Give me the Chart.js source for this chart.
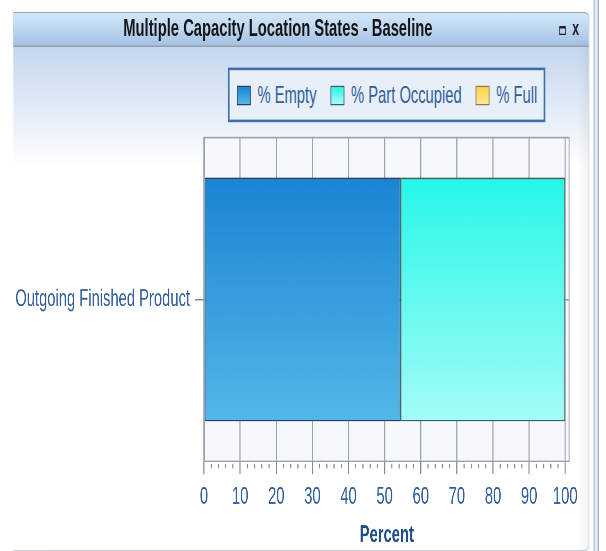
<!DOCTYPE html>
<html>
<head>
<meta charset="utf-8">
<script src="https://cdn.jsdelivr.net/npm/chart.js@4/dist/chart.umd.min.js"></script>
<style>
  html, body { margin: 0; padding: 0; background: #ffffff; overflow: hidden; }
  body { width: 606px; height: 551px; position: relative; }
  /* window laid out in a wide, short frame and then scaled so the type reads tall and narrow */
  #stage {
    position: absolute; left: 0; top: 0; width: 739px; height: 424px;
    transform: scale(0.82, 1.3); transform-origin: 0 0;
    font-family: 'Liberation Sans', Arial, sans-serif;
  }
  #panel {
    position: absolute; left: 15.9px; top: 9.2px; width: 702.5px; height: 413px;
    border-top: 1px solid #98a0a8; border-right: 1.2px solid #b4bcc4; border-bottom: 1px solid #c4ccd4;
    border-top-right-radius: 7px 5px; border-bottom-right-radius: 7px 5px;
    background: linear-gradient(to bottom, #b9cde9 0px, #c8d8ef 30px, #e6eef8 80px, #ffffff 118px, #ffffff 100%);
    overflow: hidden;
  }
  #panel::after {
    content: ''; position: absolute; right: 0; top: 26px; bottom: 0; width: 14px;
    background: linear-gradient(to right, rgba(0,0,0,0), rgba(0,0,0,0.05));
  }
  #header {
    position: absolute; left: 0; top: 0; width: 100%; height: 24.4px;
    background: linear-gradient(to bottom, #d2e7f9, #b8d2ee 60%, #a3c0e3);
    border-bottom: 1.5px solid #8b9299;
  }
  #title {
    position: absolute; left: 0; top: 0; width: 646px; height: 24.4px; line-height: 24.4px;
    text-align: center; font-weight: bold; font-size: 18px; color: #151515;
  }
  #winicons { position: absolute; left: 666px; top: 0; height: 24.4px; }
  #winicons .max {
    position: absolute; left: 0; top: 9.6px; width: 6px; height: 4.6px;
    border: 1.2px solid #202020; border-top-width: 2px;
  }
  #winicons .close {
    position: absolute; left: 16px; top: 0; line-height: 24.4px; font-size: 15px; font-weight: bold;
    color: #202020;
  }
  #legend {
    position: absolute; left: 278px; top: 52.3px; width: 374px; height: 38px;
    border: 2px solid #3f6fab; border-left-width: 2.4px; border-right-width: 2.4px; background: #e8eff9;
    display: flex; align-items: center; padding-left: 8.5px; box-sizing: content-box;
  }
  #legend .item { display: flex; align-items: center; margin-right: 16.5px; }
  #legend .sw { width: 15px; height: 13px; border: 1.5px solid #333; border-left-width: 1.8px; border-right-width: 1.8px; margin-right: 8.5px; }
  #legend .lbl { font-size: 18px; color: #2f5e9b; white-space: nowrap; }
  #edge {
    position: absolute; left: 724.4px; top: 0; width: 4px; height: 424px;
    border-left: 1.2px solid #8fa6c6; border-right: 1.2px solid #6f8cb4; background: #e4edf8;
  }
  #chart { position: absolute; left: 0; top: 0; }
</style>
</head>
<body>
<div id="stage">
  <div id="panel">
    <div id="header">
      <div id="title">Multiple Capacity Location States - Baseline</div>
      <div id="winicons"><div class="max"></div><div class="close">x</div></div>
    </div>
  </div>
  <div id="edge"></div>
  <div id="legend"></div>
  <canvas id="chart" width="719" height="423"></canvas>
</div>
<script>
// Location names and the share of time spent in each capacity state (percent)
const categories = ['Outgoing Finished Product'];
const seriesNames = ['% Empty', '% Part Occupied', '% Full'];
const pctEmpty = [54.4];
const pctPartOccupied = [45.6];
const pctFull = [0];
const percentTicks = [0, 10, 20, 30, 40, 50, 60, 70, 80, 90, 100];

// Gradient colours per state: [top, bottom, outline]
const stateColors = [
  ['#1b84d5', '#53b7e7', '#23445c'],
  ['#26f7e8', '#a4fcf7', '#3a6262'],
  ['#ffd23e', '#ffe99a', '#8a7a4c']
];

const FONT = "'Liberation Sans', Arial, sans-serif";
const GRID = '#9ea3aa';
const TICK = '#858b93';

// HTML legend built from the series names and colours
const legendEl = document.getElementById('legend');
seriesNames.forEach((name, i) => {
  const item = document.createElement('div');
  item.className = 'item';
  const sw = document.createElement('div');
  sw.className = 'sw';
  sw.style.background = `linear-gradient(to bottom, ${stateColors[i][0]}, ${stateColors[i][1]})`;
  sw.style.borderColor = stateColors[i][2];
  const lbl = document.createElement('span');
  lbl.className = 'lbl';
  lbl.textContent = name;
  item.appendChild(sw);
  item.appendChild(lbl);
  legendEl.appendChild(item);
});

function barGradient(i) {
  return (context) => {
    const chart = context.chart;
    const area = chart.chartArea;
    if (!area) return stateColors[i][0];
    const h = area.bottom - area.top;
    const g = chart.ctx.createLinearGradient(0, area.top + h * 0.125, 0, area.top + h * 0.875);
    g.addColorStop(0, stateColors[i][0]);
    g.addColorStop(1, stateColors[i][1]);
    return g;
  };
}

// Plot background, outer frame and minor ticks along the percent axis
const plotFrame = {
  id: 'plotFrame',
  beforeDraw(chart) {
    const { ctx, chartArea: a } = chart;
    ctx.save();
    ctx.fillStyle = '#f5f8fc';
    ctx.fillRect(a.left, a.top, a.right - a.left, a.bottom - a.top);
    ctx.restore();
  },
  afterDraw(chart) {
    const { ctx, chartArea: a } = chart;
    const xs = chart.scales.x;
    ctx.save();
    ctx.strokeStyle = GRID;
    ctx.lineWidth = 1.2;
    ctx.strokeRect(a.left + 0.6, a.top + 0.5, a.right - a.left - 1.2, a.bottom - a.top - 1);
    ctx.strokeStyle = TICK;
    ctx.lineWidth = 1.4;
    ctx.beginPath();
    for (let v = 2; v < 100; v += 2) {
      if (v % 10 === 0) continue;
      const px = xs.getPixelForValue(v);
      ctx.moveTo(px, a.bottom + 1.5);
      ctx.lineTo(px, a.bottom + 4.8);
    }
    ctx.stroke();
    ctx.restore();
  }
};

const dataSeries = [pctEmpty, pctPartOccupied, pctFull];

new Chart(document.getElementById('chart'), {
  type: 'bar',
  data: {
    labels: categories,
    datasets: seriesNames.map((name, i) => ({
      label: name,
      data: dataSeries[i],
      backgroundColor: barGradient(i),
      borderColor: stateColors[i][2],
      borderWidth: 1.2,
      borderSkipped: false,
      categoryPercentage: 1.0,
      barPercentage: 0.75
    }))
  },
  options: {
    indexAxis: 'y',
    responsive: false,
    animation: false,
    devicePixelRatio: 2,
    layout: { padding: { top: 105.4, right: 24.4, bottom: 0, left: 0 } },
    plugins: {
      legend: { display: false },
      tooltip: { enabled: false },
      title: { display: false }
    },
    scales: {
      x: {
        type: 'linear',
        stacked: true,
        min: 0,
        max: 101.2,
        afterBuildTicks(scale) { scale.ticks = percentTicks.map(v => ({ value: v })); },
        afterFit(scale) { scale.height = 67.6; },
        border: { display: false },
        grid: { color: GRID, lineWidth: 1.3, drawTicks: true, tickLength: 9.2, tickColor: TICK },
        ticks: { font: { family: FONT, size: 18 }, color: '#2f5e9b', padding: 6.9, maxRotation: 0, autoSkip: false },
        title: {
          display: true, text: 'Percent',
          font: { family: FONT, size: 18, weight: 'bold' }, color: '#1f4d8a',
          padding: { top: 0, bottom: 0 }
        }
      },
      y: {
        stacked: true,
        afterFit(scale) { scale.width = 248.8; },
        border: { display: false },
        grid: { offset: false, color: GRID, lineWidth: 1.2, drawTicks: true, tickLength: 11, tickColor: TICK },
        ticks: { font: { family: FONT, size: 18 }, color: '#2f5e9b', padding: 6.1 }
      }
    }
  },
  plugins: [plotFrame]
});
</script>
</body>
</html>
